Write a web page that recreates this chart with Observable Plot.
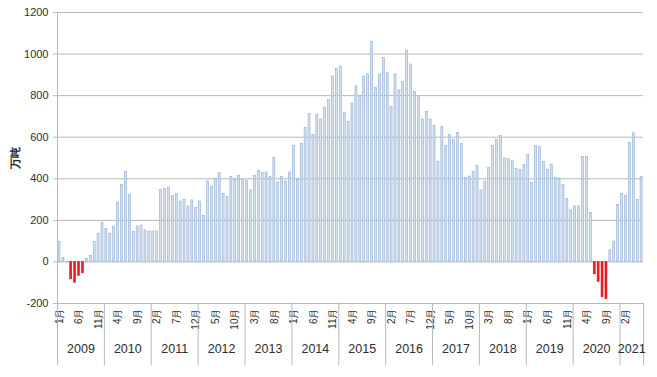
<!DOCTYPE html>
<html>
<head>
<meta charset="utf-8">
<script src="https://cdn.jsdelivr.net/npm/d3@7"></script>
<script src="https://cdn.jsdelivr.net/npm/@observablehq/plot@0.6"></script>
<style>
  html, body { margin: 0; padding: 0; background: #ffffff; }
  #chart svg [aria-label="y-axis label"] text { font-weight: bold; fill: #222; }
</style>
</head>
<body>
<div id="chart"></div>
<script>
// Years shown on the category axis (2021 runs January–June)
const years = [2009, 2010, 2011, 2012, 2013, 2014, 2015, 2016, 2017, 2018, 2019, 2020, 2021];
const monthsInYear = [12, 12, 12, 12, 12, 12, 12, 12, 12, 12, 12, 12, 6];

// Monthly values (万吨), Jan 2009 – Jun 2021
const values = [
  // 2009
  95, 20, 2, -84, -100, -68, -55, 15, 30, 95, 135, 189,
  // 2010
  159, 136, 168, 286, 371, 432, 323, 144, 171, 175, 152, 144,
  // 2011
  147, 147, 347, 352, 358, 318, 328, 291, 299, 267, 296, 259,
  // 2012
  291, 222, 387, 363, 398, 427, 328, 312, 408, 395, 415, 395,
  // 2013
  391, 344, 414, 439, 427, 430, 408, 502, 382, 408, 387, 430,
  // 2014
  557, 395, 567, 645, 711, 610, 706, 685, 743, 778, 892, 929,
  // 2015
  940, 717, 674, 762, 845, 797, 892, 902, 1057, 838, 902, 982,
  // 2016
  908, 746, 902, 825, 865, 1017, 950, 817, 797, 685, 722, 685,
  // 2017
  653, 482, 650, 557, 610, 586, 621, 567, 403, 411, 434, 463,
  // 2018
  344, 387, 451, 557, 586, 605, 498, 494, 487, 446, 443, 466,
  // 2019
  514, 379, 557, 552, 482, 443, 466, 404, 398, 371, 304, 248,
  // 2020
  267, 267, 504, 504, 236, -60, -97, -170, -180, 56, 98, 275,
  // 2021
  328, 318, 573, 619, 299, 409
];

const yTicks = [-200, 0, 200, 400, 600, 800, 1000, 1200];
const monthLabelEvery = 5;
const yLabel = "万吨";

// Build tables from the arrays
const data = values.map((v, i) => ({ i, v, month: (i % 12) + 1 }));
const monthTicks = d3.range(0, values.length, monthLabelEvery);
const yearStarts = [];
const yearCenters = [];
{
  let s = 0;
  years.forEach((y, k) => {
    yearStarts.push(s);
    yearCenters.push({ pos: s + monthsInYear[k] / 2, year: y });
    s += monthsInYear[k];
  });
  yearStarts.push(s);
}
const centerPos = yearCenters.map(d => d.pos);
const centerYear = new Map(yearCenters.map(d => [d.pos, d.year]));

const gridColor = "#b9b9b9";
const textColor = "#2e2e2e";

const chart = Plot.plot({
  width: 657,
  height: 377,
  marginLeft: 57,
  marginRight: 14,
  marginTop: 12,
  marginBottom: 74,
  style: { fontFamily: "'Liberation Sans', Arial, sans-serif", background: "#ffffff", overflow: "visible" },
  x: { type: "linear", domain: [0, values.length], axis: null },
  y: { domain: [-200, 1200], axis: null },
  marks: [
    Plot.gridY(yTicks, { stroke: gridColor, strokeOpacity: 1, strokeWidth: 1 }),
    Plot.rectY(data, {
      x1: "i",
      x2: d => d.i + 1,
      y: "v",
      insetLeft: 1,
      insetRight: 0.9,
      fill: d => (d.v < 0 ? "#ee1f26" : "#d3e1f3"),
      stroke: d => (d.v < 0 ? "#d51118" : "#8aa6cc"),
      strokeWidth: 0.55
    }),
    Plot.ruleX([0], { stroke: gridColor, strokeWidth: 1 }),
    Plot.axisY(yTicks, {
      tickSize: 4,
      tickPadding: 5,
      fontSize: 11,
      stroke: gridColor,
      fill: textColor,
      tickFormat: d => String(d),
      label: yLabel,
      labelAnchor: "center",
      labelArrow: "none",
      labelOffset: 46
    }),
    Plot.axisX(monthTicks.map(i => i + 0.5), {
      tickSize: 0,
      tickPadding: 5,
      tickRotate: -90,
      fontSize: 10,
      fill: textColor,
      tickFormat: p => `${(Math.floor(p) % 12) + 1}月`,
      label: null
    }),
    Plot.axisX(yearStarts, {
      tickSize: 62,
      stroke: gridColor,
      tickFormat: () => "",
      label: null
    }),
    Plot.axisX(centerPos, {
      tickSize: 0,
      tickPadding: 41,
      fontSize: 12.5,
      fill: textColor,
      tickFormat: p => String(centerYear.get(p)),
      label: null
    })
  ]
});

document.getElementById("chart").appendChild(chart);
</script>
</body>
</html>
